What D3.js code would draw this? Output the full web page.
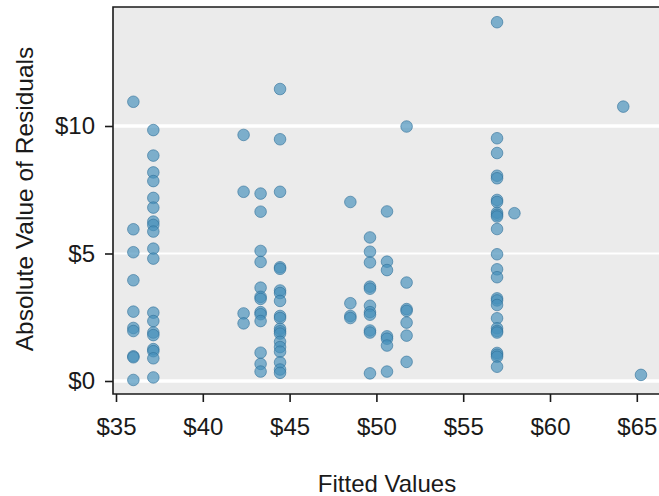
<!DOCTYPE html>
<html>
<head>
<meta charset="utf-8">
<script src="https://cdn.jsdelivr.net/npm/d3@7"></script>
<style>
  body { margin: 0; background: #fff; }
  text { font-family: "Liberation Sans", Arial, sans-serif; fill: #1a1a1a; }
</style>
</head>
<body>
<svg id="chart" width="659" height="496"></svg>
<script>
// fitted price levels (x) and the absolute residuals seen at each level (y)
const fittedLevels = [36.0, 37.15, 42.35, 43.33, 44.45, 48.5, 49.63, 50.61, 51.74, 56.95, 57.95, 64.22, 65.24];
const residuals = [
    [10.95, 5.95, 5.05, 3.95, 2.72, 2.08, 1.96, 0.97, 0.93, 0.04],
    [9.84, 8.84, 8.18, 7.84, 7.18, 6.8, 6.25, 6.12, 5.86, 5.19, 4.8, 2.68, 2.35, 1.9, 1.8, 1.25, 1.17, 0.89, 0.14],
    [9.65, 7.42, 2.65, 2.26],
    [7.35, 6.64, 5.1, 4.67, 3.66, 3.3, 3.22, 2.7, 2.62, 2.35, 1.11, 0.67, 0.37],
    [11.45, 9.48, 7.42, 4.46, 4.4, 3.55, 3.45, 3.14, 2.55, 2.47, 2.05, 1.95, 1.86, 1.54, 1.33, 1.15, 0.73, 0.45, 0.32],
    [7.02, 3.05, 2.55, 2.47],
    [5.63, 5.07, 4.65, 3.7, 3.62, 2.95, 2.7, 2.6, 1.98, 1.9, 0.3],
    [6.65, 4.68, 4.35, 1.75, 1.66, 1.39, 0.37],
    [9.98, 3.86, 2.82, 2.75, 2.29, 1.78, 0.75],
    [14.07, 9.52, 8.94, 8.05, 7.95, 7.1, 7.02, 6.6, 6.52, 6.45, 5.96, 4.97, 4.38, 4.07, 3.24, 3.16, 2.98, 2.46, 2.07, 1.96, 1.9, 1.1, 1.03, 0.95, 0.56],
    [6.58],
    [10.76],
    [0.24]
];
const xTicks = [35, 40, 45, 50, 55, 60, 65];
const yTicks = [0, 5, 10];

let points = [];
fittedLevels.forEach(function(f, i) {
    residuals[i].forEach(function(r) { points.push({fit: f, res: r}); });
});

let svg = d3.select("#chart");
let panel = {left: 113, top: 7, right: 661, bottom: 394};

let x = d3.scaleLinear().domain([35, 65]).range([116, 636.8]);
let y = d3.scaleLinear().domain([0, 10]).range([381, 126]);
let money = function(d) { return "$" + d; };

// panel background
svg.append("rect")
    .attr("x", panel.left).attr("y", panel.top)
    .attr("width", panel.right - panel.left)
    .attr("height", panel.bottom - panel.top)
    .style("fill", "#ebebeb");

// horizontal grid lines
svg.selectAll(".grid")
    .data(yTicks)
    .enter().append("line")
    .attr("class", "grid")
    .attr("x1", panel.left).attr("x2", panel.right)
    .attr("y1", d => y(d)).attr("y2", d => y(d))
    .style("stroke", "#fff")
    .style("stroke-width", d => d == 5 ? 2 : 3.5);

// points
svg.selectAll(".pt")
    .data(points)
    .enter().append("circle")
    .attr("class", "pt")
    .attr("cx", d => x(d.fit))
    .attr("cy", d => y(d.res))
    .attr("r", 5.8)
    .style("fill", "#4791bb")
    .style("fill-opacity", 0.68)
    .style("stroke", "#2f7099")
    .style("stroke-opacity", 0.6)
    .style("stroke-width", 1);

// frame: top, left, bottom
svg.append("path")
    .attr("d", "M" + panel.right + "," + panel.top + "H" + panel.left + "V" + panel.bottom + "H" + panel.right)
    .style("fill", "none")
    .style("stroke", "#1a1a1a")
    .style("stroke-width", 1.6);

// axes
let xAxis = d3.axisBottom(x).tickValues(xTicks).tickFormat(money).tickSize(8).tickPadding(6);
let gx = svg.append("g").attr("transform", "translate(0," + panel.bottom + ")").call(xAxis);
gx.select(".domain").remove();
gx.selectAll(".tick line").style("stroke", "#1a1a1a").style("stroke-width", 1.6);
gx.selectAll(".tick text").style("font-size", "24px").attr("y", 24).attr("dy", "0.71em").style("fill", "#1a1a1a");

let yAxis = d3.axisLeft(y).tickValues(yTicks).tickFormat(money).tickSize(8).tickPadding(10);
let gy = svg.append("g").attr("transform", "translate(" + panel.left + ",0)").call(yAxis);
gy.select(".domain").remove();
gy.selectAll(".tick line").style("stroke", "#1a1a1a").style("stroke-width", 1.6);
gy.selectAll(".tick text").style("font-size", "24px").attr("x", -18).style("fill", "#1a1a1a");

// axis titles
svg.append("text")
    .text("Fitted Values")
    .attr("x", 387).attr("y", 492)
    .style("text-anchor", "middle")
    .style("font-size", "24px");

svg.append("text")
    .text("Absolute Value of Residuals")
    .attr("transform", "translate(33,199) rotate(-90)")
    .style("text-anchor", "middle")
    .style("font-size", "24.5px");
</script>
</body>
</html>
